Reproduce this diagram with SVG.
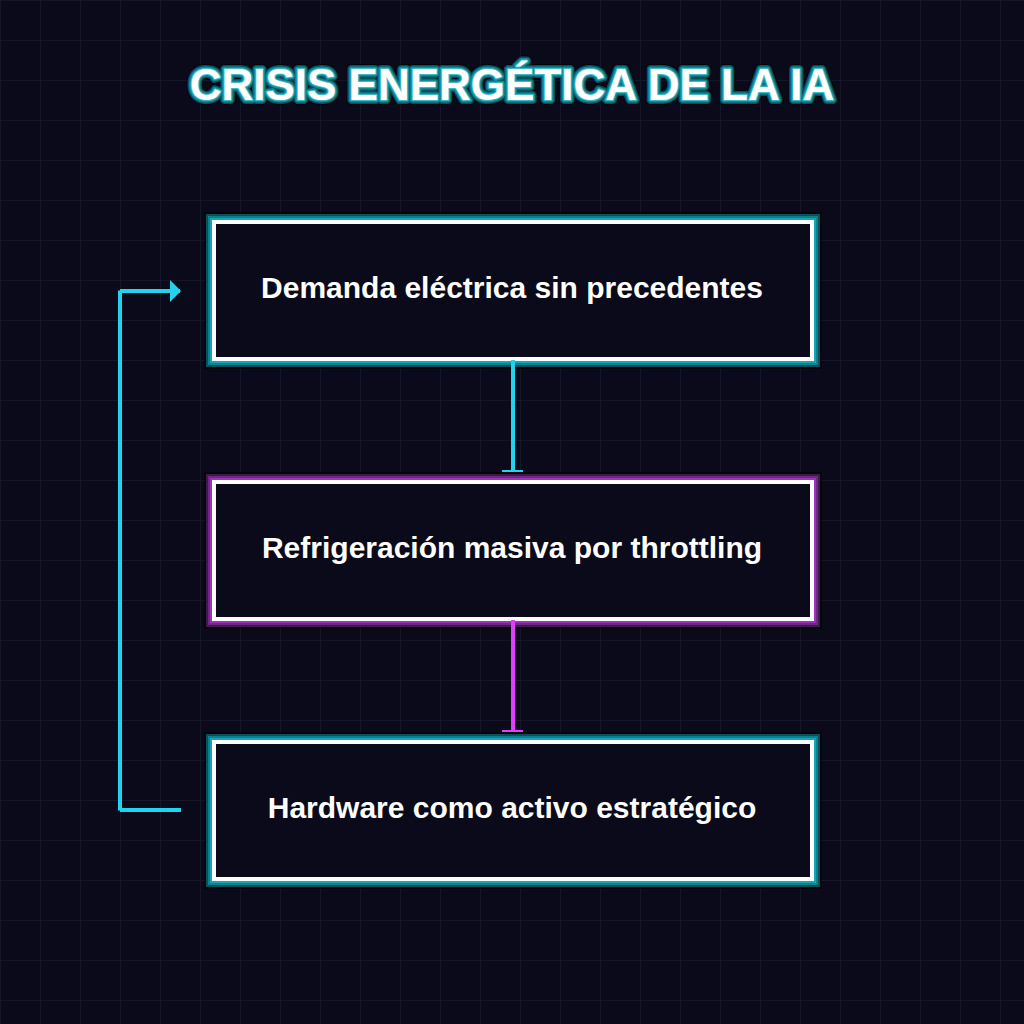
<svg xmlns="http://www.w3.org/2000/svg" width="1024" height="1024" viewBox="0 0 1024 1024">
<style>
.t{font-family:"Liberation Sans",Arial,sans-serif;font-weight:700;text-anchor:middle}
.n{font-size:30px;fill:#fff}
.title{font-size:44px;fill:#fff;stroke-linejoin:round}
.r{fill:none}
.k{stroke:#000;stroke-width:20;opacity:.55}
.w{stroke:#fff;stroke-width:4;fill:#0a0a1a}
.c1{stroke:#0b4f58;stroke-width:16}
.c2{stroke:#0e7f8c;stroke-width:12}
.c3{stroke:#14a5b8;stroke-width:8}
.p1{stroke:#3e1a4a;stroke-width:16}
.p2{stroke:#6e2a80;stroke-width:12}
.p3{stroke:#a030c0;stroke-width:8}
.c{fill:none;stroke-width:4}
.cy{stroke:#22d3ee}
.mg{stroke:#e040fb}
.cap{stroke-width:2}
</style>
<defs>
<pattern id="g" width="40" height="40" patternUnits="userSpaceOnUse"><path d="M0.5 0V40M0 0.5H40" stroke="#161629" stroke-width="1" fill="none"/></pattern>
</defs>
<rect width="1024" height="1024" fill="#0a0a1a"/>
<rect width="1024" height="1024" fill="url(#g)"/>
<g id="title">
<text class="t title" x="512" y="100" stroke="#000" stroke-width="10" opacity=".5">CRISIS ENERGÉTICA DE LA IA</text>
<text class="t title" x="512" y="100" stroke="#0b4f58" stroke-width="8">CRISIS ENERGÉTICA DE LA IA</text>
<text class="t title" x="512" y="100" stroke="#0e8a98" stroke-width="5">CRISIS ENERGÉTICA DE LA IA</text>
<text class="t title" x="512" y="100" stroke="#40b8c8" stroke-width="2">CRISIS ENERGÉTICA DE LA IA</text>
<text class="t title" x="512" y="100">CRISIS ENERGÉTICA DE LA IA</text>
</g>
<g id="node1">
<rect x="214" y="222" width="598" height="137" class="r k"/><rect x="214" y="222" width="598" height="137" class="r c1"/><rect x="214" y="222" width="598" height="137" class="r c2"/><rect x="214" y="222" width="598" height="137" class="r c3"/><rect x="214" y="222" width="598" height="137" class="w"/>
<text class="t n" x="512" y="298">Demanda eléctrica sin precedentes</text>
</g>
<g id="node2">
<rect x="214" y="482" width="598" height="137" class="r k"/><rect x="214" y="482" width="598" height="137" class="r p1"/><rect x="214" y="482" width="598" height="137" class="r p2"/><rect x="214" y="482" width="598" height="137" class="r p3"/><rect x="214" y="482" width="598" height="137" class="w"/>
<text class="t n" x="512" y="558">Refrigeración masiva por throttling</text>
</g>
<g id="node3">
<rect x="214" y="742" width="598" height="137" class="r k"/><rect x="214" y="742" width="598" height="137" class="r c1"/><rect x="214" y="742" width="598" height="137" class="r c2"/><rect x="214" y="742" width="598" height="137" class="r c3"/><rect x="214" y="742" width="598" height="137" class="w"/>
<text class="t n" x="512" y="818">Hardware como activo estratégico</text>
</g>
<g id="connectors">
<path class="c cy" d="M513 360V471"/><path class="cy cap" d="M502 471H523"/>
<path class="c mg" d="M513 620V731"/><path class="mg cap" d="M502 731H523"/>
<path class="c cy" d="M181 810H120"/><path class="c cy" d="M120 810.5V290.5"/><path class="c cy" d="M120 291H180"/>
<path fill="#22d3ee" d="M170 280L181 291L170 302Z"/>
</g>
</svg>
